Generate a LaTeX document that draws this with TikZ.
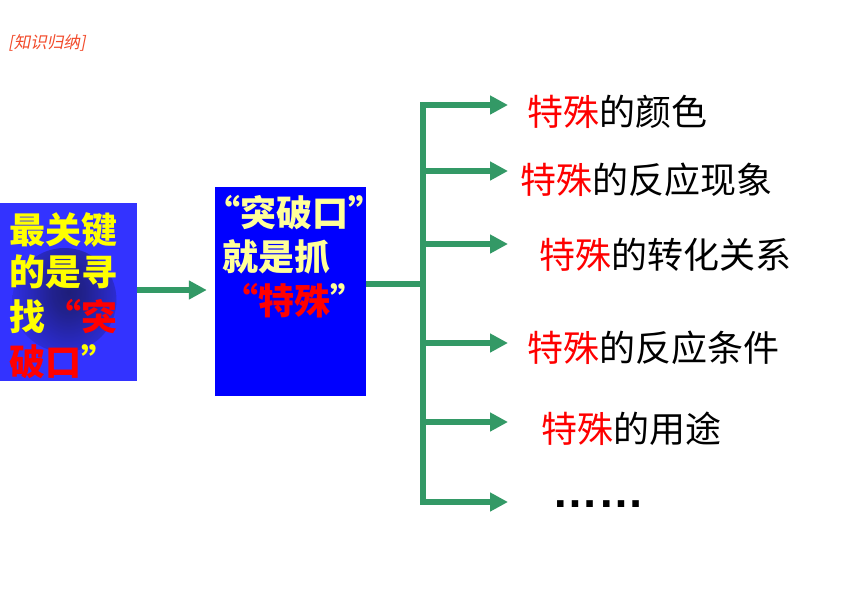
\documentclass[tikz,border=0pt]{standalone}
\usepackage{fontspec}
\usetikzlibrary{arrows.meta}
\newfontfamily\cjk{Noto Sans CJK SC}
\newfontfamily\cjkit{Noto Sans CJK SC}[FakeSlant=0.2]
\newfontfamily\dotfont{Liberation Sans}
\definecolor{garrow}{HTML}{339966}
\definecolor{boxblue}{HTML}{0000FF}
\definecolor{lboxblue}{HTML}{3333FF}
\definecolor{spotblue}{HTML}{1E1E7A}
\definecolor{paleyel}{HTML}{FFFF99}
\definecolor{brightyel}{HTML}{FFFF00}
\definecolor{titlered}{HTML}{F24A2A}
\pgfdeclareradialshading{dspot}{\pgfpoint{0bp}{0bp}}{color(0bp)=(spotblue); color(6bp)=(spotblue!85!lboxblue); color(25bp)=(lboxblue); color(50bp)=(lboxblue)}
\newcommand\myoq{\makebox[0.5em][r]{“}}
\newcommand\mycq{\makebox[0.5em][l]{”}}
\begin{document}
\begin{tikzpicture}[x=1pt,y=-1pt,
  big/.style={inner sep=0pt, anchor=base west, font=\cjk\bfseries\fontsize{36}{40}\selectfont},
  item/.style={inner sep=0pt, anchor=base west, font=\cjk\fontsize{36}{40}\selectfont},
  gline/.style={draw=garrow, line width=6pt},
  garr/.style={gline, -{Triangle[length=18pt,width=18pt]}},
]
\useasboundingbox[fill=white] (0,0) rectangle (860,595);

% title
\node[inner sep=0pt, anchor=base west, text=titlered, font=\cjkit\fontsize{16.5}{18}\selectfont] (title) at (8,48) {[知识归纳]};

% left box
\node[inner sep=0pt, minimum width=137pt, minimum height=178pt, fill=lboxblue,
  path picture={\shade[shading=dspot] ([shift={(-4,8)}]path picture bounding box.center) circle (52pt);}]
  (lbox) at (68.5,292) {};
\node[big, text=brightyel] (l1) at (9,243) {最关键};
\node[big, text=brightyel] (l2) at (9,285) {的是寻};
\node[big, text=brightyel] (l3) at (9,330) {找\hspace{0.5em}\textcolor{red}{\myoq 突}};
\node[big, text=red] (l4) at (9,375) {破口\textcolor{brightyel}{\mycq}};

% middle box
\node[inner sep=0pt, minimum width=151pt, minimum height=209pt, fill=boxblue] (mbox) at (290.5,291.5) {};
\node[big, text=paleyel] (m1) at (222,226) {\myoq 突破口\mycq};
\node[big, text=paleyel] (m2) at (222,270) {就是抓};
\node[big, text=red] (m3) at (240,314) {\myoq 特殊\textcolor{paleyel}{\mycq}};

% main arrow
\draw[garr, shorten >=8pt] (lbox.east |- 0,290) -- (mbox.west |- 0,290);

% tree
\coordinate (trunk) at (423,284);
\coordinate (b1) at (423,105);
\coordinate (b2) at (423,171);
\coordinate (b3) at (423,244);
\coordinate (b4) at (423,343);
\coordinate (b5) at (423,422);
\coordinate (b6) at (423,502);
\foreach \i in {1,...,6} { \coordinate (t\i) at (508,0 |- b\i); }
\draw[gline] (mbox.east |- trunk) -- (trunk);
\draw[gline, line cap=rect] (b1) -- (b6);
\foreach \i in {1,...,6} { \draw[garr] (b\i) -- (t\i); }

% items
\node[item] (r1) at (527,125) {\textcolor{red}{特殊}的颜色};
\node[item] (r2) at (520,193) {\textcolor{red}{特殊}的反应现象};
\node[item] (r3) at (539,268) {\textcolor{red}{特殊}的转化关系};
\node[item] (r4) at (527,361) {\textcolor{red}{特殊}的反应条件};
\node[item] (r5) at (541,442) {\textcolor{red}{特殊}的用途};
\node[inner sep=0pt, anchor=base west, font=\dotfont\bfseries\fontsize{46}{50}\selectfont] (r6) at (552,507) {……};
\end{tikzpicture}
\end{document}
